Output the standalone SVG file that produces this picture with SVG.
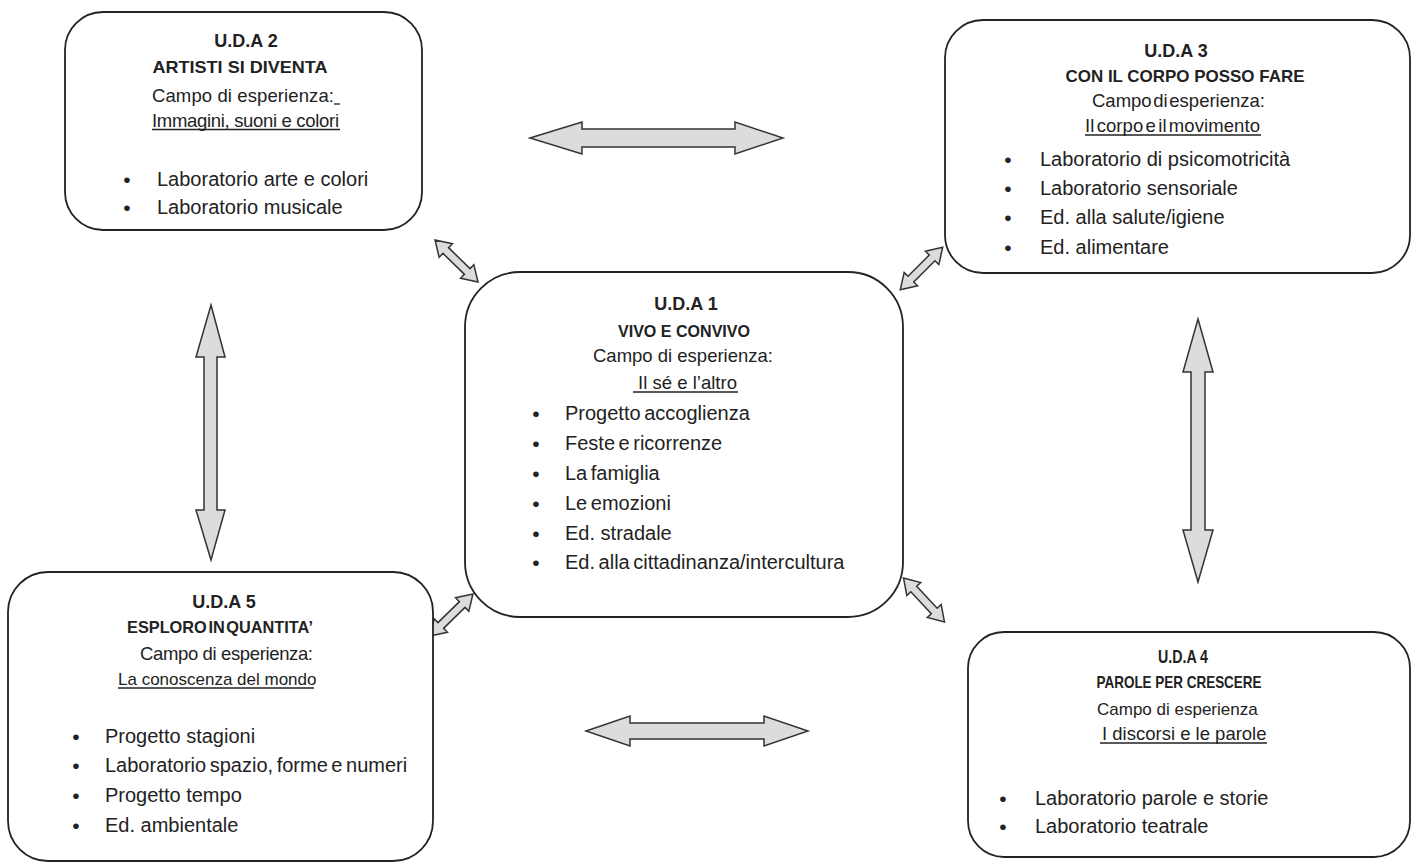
<svg xmlns="http://www.w3.org/2000/svg" xmlns:xlink="http://www.w3.org/1999/xlink" width="1415" height="862" viewBox="0 0 1415 862">
<style>
.box{fill:#fff;stroke:#222;stroke-width:1.8}
.arr{fill:#dcdcdc;stroke:#333;stroke-width:1.5;stroke-linejoin:miter}
text{font-family:"Liberation Sans",Arial,sans-serif;fill:#222}
.h{font-weight:bold;font-size:18px;text-anchor:middle}
.t{font-weight:bold;font-size:17px;text-anchor:middle}
.c{font-size:18.5px}
.b{font-size:20px}
.d{font-size:21px;text-anchor:middle}
.u{stroke:#222;stroke-width:1.3}
</style>
<defs>
<path id="diag" d="M-30,0 L-15,-9.5 L-15,-4 L15,-4 L15,-9.5 L30,0 L15,9.5 L15,4 L-15,4 L-15,9.5 Z"/>
</defs>
<rect width="1415" height="862" fill="#fff"/>

<g id="connectors">
<path class="arr" d="M530,138 L582,122 L582,129 L735,129 L735,122 L783,138 L735,154 L735,147 L582,147 L582,154 Z"/>
<path class="arr" d="M586,731 L630,716 L630,723 L764,723 L764,716 L808,731 L764,746 L764,739 L630,739 L630,746 Z"/>
<path class="arr" d="M211,305 L225,357 L217,357 L217,510 L225,510 L211,560 L196,510 L204,510 L204,357 L196,357 Z"/>
<path class="arr" d="M1198,319 L1213,372 L1205,372 L1205,530 L1213,530 L1198,582 L1183,530 L1191,530 L1191,372 L1183,372 Z"/>
<use xlink:href="#diag" class="arr" transform="translate(456.5,261) rotate(44.3)"/>
<use xlink:href="#diag" class="arr" transform="translate(921.5,268.5) rotate(-45)"/>
<use xlink:href="#diag" class="arr" transform="translate(451.5,615) rotate(-44.4)"/>
<use xlink:href="#diag" class="arr" transform="translate(924,600) rotate(47)"/>
</g>

<g id="uda2">
<rect class="box" x="65" y="12" width="357" height="218" rx="38"/>
<text class="h" x="246" y="47">U.D.A 2</text>
<text class="t" x="240" y="73" textLength="175" lengthAdjust="spacingAndGlyphs">ARTISTI SI DIVENTA</text>
<text class="c" x="152" y="102" textLength="182" lengthAdjust="spacing">Campo di esperienza:</text>
<line class="u" x1="334" y1="104" x2="340" y2="104"/>
<text class="c" x="152" y="127" textLength="187" lengthAdjust="spacing">Immagini, suoni e colori</text>
<line class="u" x1="152" y1="129.5" x2="340" y2="129.5"/>
<text class="d" x="127" y="187">•</text>
<text class="b" x="157" y="186">Laboratorio arte e colori</text>
<text class="d" x="127" y="215">•</text>
<text class="b" x="157" y="214">Laboratorio musicale</text>
</g>

<g id="uda3">
<rect class="box" x="945" y="20" width="465" height="253" rx="38"/>
<text class="h" x="1176" y="57">U.D.A 3</text>
<text class="t" x="1185" y="82" textLength="239" lengthAdjust="spacingAndGlyphs">CON IL CORPO POSSO FARE</text>
<text class="c" x="1092" y="107" word-spacing="-3.5">Campo di esperienza:</text>
<text class="c" x="1085" y="132" word-spacing="-3" textLength="175" lengthAdjust="spacing">Il corpo e il movimento</text>
<line class="u" x1="1085" y1="135" x2="1261" y2="135"/>
<text class="d" x="1008" y="167">•</text>
<text class="b" x="1040" y="166">Laboratorio di psicomotricità</text>
<text class="d" x="1008" y="196">•</text>
<text class="b" x="1040" y="195">Laboratorio sensoriale</text>
<text class="d" x="1008" y="225">•</text>
<text class="b" x="1040" y="224">Ed. alla salute/igiene</text>
<text class="d" x="1008" y="255">•</text>
<text class="b" x="1040" y="254">Ed. alimentare</text>
</g>

<g id="uda1">
<rect class="box" x="465" y="272" width="438" height="345" rx="55"/>
<text class="h" x="686" y="310">U.D.A 1</text>
<text class="t" x="684" y="337" textLength="132" lengthAdjust="spacingAndGlyphs">VIVO E CONVIVO</text>
<text class="c" x="593" y="362">Campo di esperienza:</text>
<text class="c" x="638" y="389" textLength="99" lengthAdjust="spacing">Il sé e l’altro</text>
<line class="u" x1="633" y1="392" x2="738" y2="392"/>
<text class="d" x="536" y="421">•</text>
<text class="b" x="565" y="420" word-spacing="-2">Progetto accoglienza</text>
<text class="d" x="536" y="451">•</text>
<text class="b" x="565" y="450" word-spacing="-2">Feste e ricorrenze</text>
<text class="d" x="536" y="481">•</text>
<text class="b" x="565" y="480" word-spacing="-2">La famiglia</text>
<text class="d" x="536" y="511">•</text>
<text class="b" x="565" y="510" word-spacing="-2">Le emozioni</text>
<text class="d" x="536" y="541">•</text>
<text class="b" x="565" y="540">Ed. stradale</text>
<text class="d" x="536" y="570">•</text>
<text class="b" x="565" y="569" word-spacing="-2">Ed. alla cittadinanza/intercultura</text>
</g>

<g id="uda5">
<rect class="box" x="8" y="572" width="425" height="289" rx="40"/>
<text class="h" x="224" y="608">U.D.A 5</text>
<text class="t" x="220" y="633" textLength="186" lengthAdjust="spacingAndGlyphs" word-spacing="-3">ESPLORO IN QUANTITA’</text>
<text class="c" x="140" y="660" textLength="173" lengthAdjust="spacing">Campo di esperienza:</text>
<text x="118" y="685" font-size="17">La conoscenza del mondo</text>
<line class="u" x1="118" y1="688" x2="314" y2="688"/>
<text class="d" x="76" y="744">•</text>
<text class="b" x="105" y="743">Progetto stagioni</text>
<text class="d" x="76" y="773">•</text>
<text class="b" x="105" y="772" word-spacing="-2">Laboratorio spazio, forme e numeri</text>
<text class="d" x="76" y="803">•</text>
<text class="b" x="105" y="802">Progetto tempo</text>
<text class="d" x="76" y="833">•</text>
<text class="b" x="105" y="832">Ed. ambientale</text>
</g>

<g id="uda4">
<rect class="box" x="968" y="632" width="442" height="225" rx="36"/>
<text class="h" x="1183" y="663" textLength="50" lengthAdjust="spacingAndGlyphs">U.D.A 4</text>
<text class="t" x="1179" y="688" textLength="165" lengthAdjust="spacingAndGlyphs">PAROLE PER CRESCERE</text>
<text x="1097" y="715" font-size="17">Campo di esperienza</text>
<text class="c" x="1102" y="740">I discorsi e le parole</text>
<line class="u" x1="1100" y1="743" x2="1267" y2="743"/>
<text class="d" x="1003" y="806">•</text>
<text class="b" x="1035" y="805">Laboratorio parole e storie</text>
<text class="d" x="1003" y="834">•</text>
<text class="b" x="1035" y="833">Laboratorio teatrale</text>
</g>
</svg>
